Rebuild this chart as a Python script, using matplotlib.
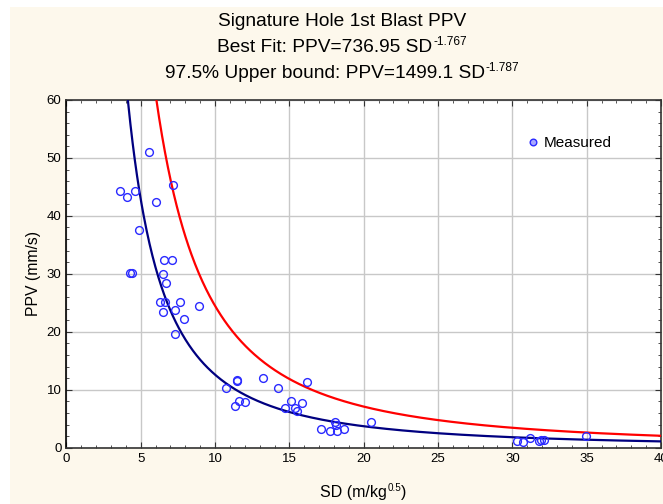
import numpy as np
import matplotlib
matplotlib.use("Agg")
import matplotlib.pyplot as plt
from matplotlib.patches import Rectangle
from matplotlib.ticker import MultipleLocator

plt.rcParams['font.family'] = ['Liberation Sans', 'DejaVu Sans']

# measured scaled distance (m/kg^0.5) and PPV (mm/s)
sd = [3.63, 4.06, 4.64, 4.28, 4.41, 4.87, 5.58, 6.03, 7.19,
      6.59, 7.11, 6.48, 6.70, 6.32, 6.61, 6.50, 7.33, 7.64, 7.91, 8.90, 7.33,
      10.76, 11.46, 11.50, 13.23, 14.22, 16.17, 11.32, 11.61, 12.00,
      14.73, 15.13, 15.40, 15.52, 15.87,
      17.13, 17.74, 18.10, 18.14, 18.23, 18.70, 20.50,
      30.28, 30.73, 31.20, 31.76, 31.94, 32.10, 34.97]
ppv = [44.3, 43.2, 44.3, 30.2, 30.2, 37.5, 51.0, 42.4, 45.3,
       32.4, 32.4, 30.0, 28.4, 25.1, 25.2, 23.5, 23.7, 25.2, 22.2, 24.5, 19.7,
       10.3, 11.5, 11.6, 12.1, 10.3, 11.3, 7.2, 8.05, 7.9,
       6.8, 8.0, 6.8, 6.4, 7.7,
       3.3, 2.9, 4.5, 3.9, 2.9, 3.2, 4.4,
       1.1, 1.0, 1.7, 1.2, 1.3, 1.4, 2.0]

fit_k, fit_b = 736.95, -1.767
ub_k, ub_b = 1499.1, -1.787

W, H = 663, 504
bg = '#fdf8ec'
fig = plt.figure(figsize=(W / 100, H / 100), dpi=100, facecolor=bg)
fig.patches.append(Rectangle((0, 0), 10 / W, 1, transform=fig.transFigure,
                             facecolor='white', edgecolor='none', zorder=-1))
fig.patches.append(Rectangle((0, 1 - 7 / H), 1, 7 / H, transform=fig.transFigure,
                             facecolor='white', edgecolor='none', zorder=-1))
ax = fig.add_axes([66.4 / W, 1 - 447.7 / H, (661 - 66.4) / W, (447.7 - 100) / H])
ax.set_facecolor('white')

xs = np.linspace(0.5, 40, 800)
ax.plot(xs, fit_k * xs ** fit_b, color='#000080', lw=1.6, zorder=3)
ax.plot(xs, ub_k * xs ** ub_b, color='#ff0000', lw=1.6, zorder=3)
ax.plot(sd, ppv, 'o', ms=5.6, mfc='none', mec='#2a2aff', mew=1.0,
        zorder=4, label='Measured')

ax.set_xlim(0, 40)
ax.set_ylim(0, 60)
ax.xaxis.set_major_locator(MultipleLocator(5))
ax.xaxis.set_minor_locator(MultipleLocator(1))
ax.yaxis.set_major_locator(MultipleLocator(10))
ax.yaxis.set_minor_locator(MultipleLocator(2))
ax.tick_params(which='both', direction='in', top=True, right=True,
               labelsize=9.5, color='#333333')
ax.tick_params(which='major', length=4)
ax.tick_params(which='minor', length=2.5)
ax.grid(True, which='major', color='#c8c8c8', lw=1.0)
ax.set_axisbelow(True)
for s in ax.spines.values():
    s.set_color('#333333')
    s.set_linewidth(1.2)
ax.spines['left'].set_color('black')

ax.set_ylabel('PPV (mm/s)', fontsize=11.3)

renderer = fig.canvas.get_renderer()


def sup_text(xc, yc, base, sup, size, tail=''):
    # base text, small raised exponent, optional tail; centred as a whole at xc (px)
    parts = [fig.text(0, 0, base, fontsize=size, ha='left', va='center'),
             fig.text(0, 0, sup, fontsize=size * 0.62, ha='left', va='center')]
    if tail:
        parts.append(fig.text(0, 0, tail, fontsize=size, ha='left', va='center'))
    widths = [t.get_window_extent(renderer).width for t in parts]
    x = xc - (sum(widths) + 1) / 2
    for i, (t, w) in enumerate(zip(parts, widths)):
        dy = size * 0.45 if i == 1 else 0
        t.set_position((x / W, 1 - (yc - dy) / H))
        x += w + (1 if i == 0 else 0)


fig.text(342 / W, 1 - 22 / H, 'Signature Hole 1st Blast PPV', ha='center', va='center', fontsize=13.8)
sup_text(342, 48, 'Best Fit: PPV=736.95 SD', '-1.767', 13.8)
sup_text(342, 74, '97.5% Upper bound: PPV=1499.1 SD', '-1.787', 13.8)
sup_text(363, 493, 'SD (m/kg', '0.5', 11.5, tail=')')

leg = ax.legend(loc='center left', bbox_to_anchor=(0.772, 0.876), frameon=False, fontsize=11,
                handlelength=1.0, handletextpad=0.2, borderaxespad=0, borderpad=0,
                markerscale=0.85)
leg.legend_handles[0].set_markerfacecolor('#a8a8ff')

fig.savefig('out.png', dpi=100, facecolor=fig.get_facecolor())
